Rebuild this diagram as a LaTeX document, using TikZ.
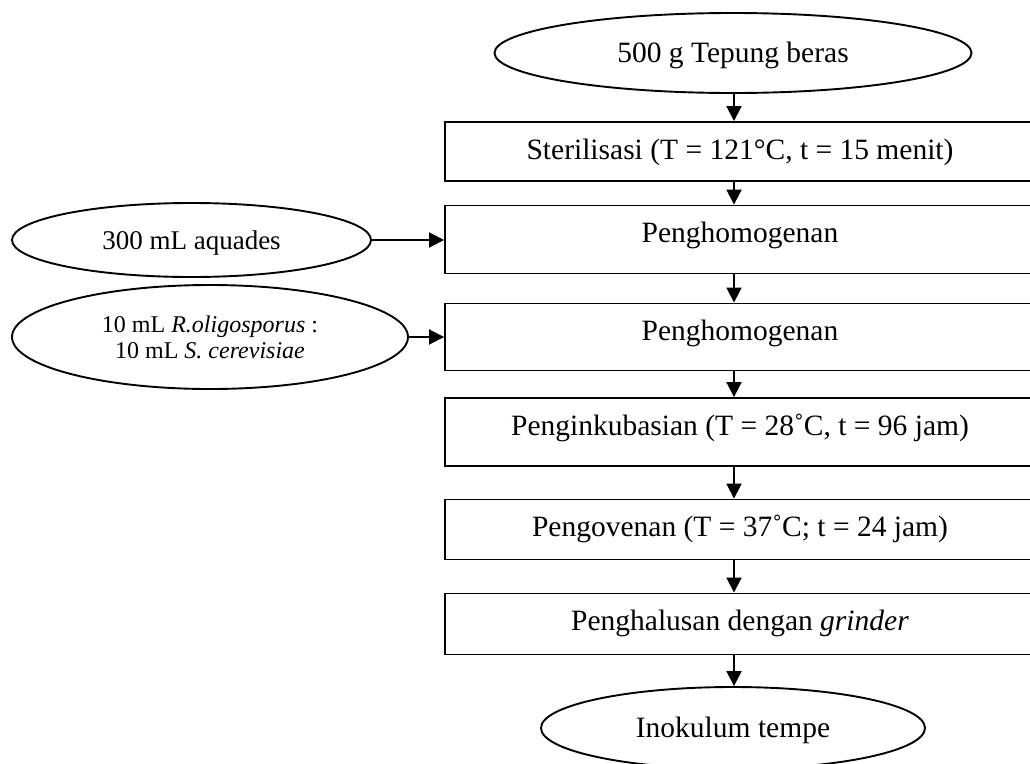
\documentclass[tikz,border=0pt]{standalone}
\usepackage{fontspec}
\setmainfont{Liberation Serif}
\usetikzlibrary{shapes.geometric,arrows.meta}

\tikzset{
  stepbox/.style={draw, line width=1.9pt, rectangle, minimum width=590pt,
    inner sep=0pt, text height=37pt, font=\fontsize{29.5}{33}\selectfont},
  endpoint/.style={draw, line width=1.9pt, ellipse, inner sep=0pt,
    text height=19pt, text depth=0pt, font=\fontsize{29.5}{33}\selectfont},
  flowarrow/.style={line width=1.9pt, -{Triangle[length=15pt,width=15pt]}}
}

\begin{document}
\begin{tikzpicture}[x=1pt, y=-1pt]
\clip (0,0) rectangle (1030,763);
\coordinate (spine) at (734,0);

% main column
\node[endpoint, minimum width=477pt, minimum height=80pt] (beras) at (733,53) {500 g Tepung beras};
\node[stepbox, text depth=22pt] (steril) at (740,151.5) {Sterilisasi (T = 121°C, t = 15 menit)};
\node[stepbox, text depth=31pt] (homA) at (740,239.5) {Penghomogenan};
\node[stepbox, text depth=30pt] (homB) at (740,337) {Penghomogenan};
\node[stepbox, text depth=31pt] (inkub) at (740,432) {Penginkubasian (T = 28˚C, t = 96 jam)};
\node[stepbox, text depth=23pt] (oven) at (740,529.5) {Pengovenan (T = 37˚C; t = 24 jam)};
\node[stepbox, text depth=24pt] (halus) at (740,624) {Penghalusan dengan \textit{grinder}};
\node[endpoint, minimum width=384pt, minimum height=82pt] (inokulum) at (733,728) {Inokulum tempe};

% inputs on the left
\node[endpoint, minimum width=359pt, minimum height=74pt, text height=18pt,
  font=\fontsize{27}{31}\selectfont] (aquades) at (191.5,240) {300 mL aquades};
\node[draw, line width=1.9pt, ellipse, inner sep=0pt, minimum width=396pt,
  minimum height=104pt, align=center, font=\fontsize{24}{26}\selectfont] (ragi) at (210,337)
  {10 mL \textit{R.oligosporus} :\\10 mL \textit{S. cerevisiae}};

% connectors
\foreach \a/\b in {beras/steril, steril/homA, homA/homB, homB/inkub, inkub/oven, oven/halus, halus/inokulum}
  \draw[flowarrow] (\a.south -| spine) -- (\b.north -| spine);
\draw[flowarrow] (aquades.east) -- (aquades.east -| homA.west);
\draw[flowarrow] (ragi.east) -- (ragi.east -| homB.west);
\end{tikzpicture}
\end{document}
